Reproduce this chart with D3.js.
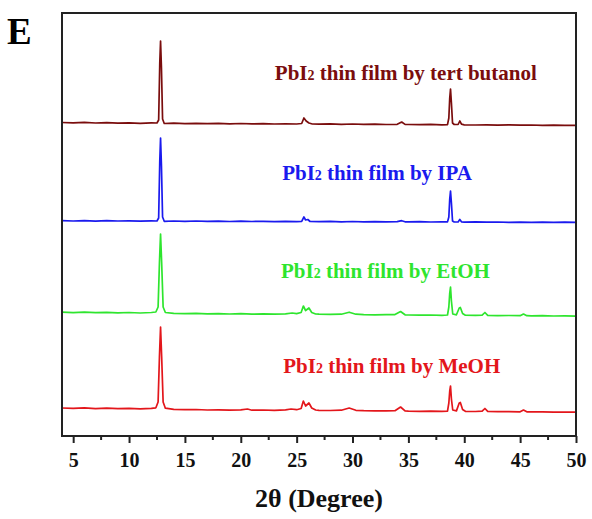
<!DOCTYPE html>
<html>
<head>
<meta charset="utf-8">
<script src="https://cdn.jsdelivr.net/npm/d3@7"></script>
<style>
  body { margin: 0; background: #fff; }
  svg { display: block; }
  text { font-family: "Liberation Serif", "Times New Roman", serif; font-weight: bold; }
</style>
</head>
<body>
<div id="chart"></div>
<script>
// series names, colours and vertical stacking offsets (a.u.)
const names = ['tert butanol', 'IPA', 'EtOH', 'MeOH'];
const colors = ['#7a0d0d', '#1a1aee', '#2ee52e', '#e3161b'];
const offsets = [313, 215, 123, 27];

const xTicks = [5, 10, 15, 20, 25, 30, 35, 40, 45, 50];
const xMinor = [7.5, 12.5, 17.5, 22.5, 27.5, 32.5, 37.5, 42.5, 47.5];

// [2theta, intensity]
const tertData = [
  [4, 0.5], [5, 0.2], [6, 0.6], [7, 0], [8, 0.4], [9, -0.2], [10, 0.2], [11, -0.3], [12, 0.1],
  [12.5, 0], [12.65, 3], [12.75, 60], [12.82, 82], [12.9, 55], [13.0, 4], [13.15, -0.5],
  [14, -0.2], [15, -0.6], [16, -0.3], [17, -0.7], [18, -0.4], [19, -0.8], [20, -0.5], [21, -0.9],
  [22, -0.6], [23, -1], [24, -0.8], [25, -1], [25.45, -0.5], [25.65, 5], [25.85, 2], [26.1, 0],
  [26.4, -1], [27, -1.1], [28, -0.9], [29, -1.3], [30, -1], [31, -1.4], [32, -1.2], [33, -1.5],
  [34, -1.3], [34.4, 1], [34.7, -1.4], [35, -1.5], [36, -1.7], [37, -1.4], [38, -1.8], [38.5, -1.7],
  [38.62, 5], [38.7, 25], [38.77, 34], [38.85, 20], [38.95, 0], [39.1, -1.5], [39.45, -1.5],
  [39.6, 2], [39.75, -1.2], [40, -1.8], [41, -2], [42, -1.8], [43, -2.1], [44, -1.9], [45, -2.2],
  [46, -2], [47, -2.3], [48, -2.1], [49, -2.4], [50, -2.3]
];

const ipaData = [
  [4, 0.3], [5, 0], [6, 0.4], [7, -0.1], [8, 0.3], [9, 0], [10, 0.2], [11, -0.2], [12, 0.1],
  [12.5, 0], [12.65, 3], [12.75, 60], [12.82, 83], [12.9, 55], [13.0, 4], [13.15, -0.3],
  [14, 0], [15, -0.3], [16, 0], [17, -0.4], [18, -0.1], [19, -0.5], [20, -0.2], [21, -0.5],
  [22, -0.3], [23, -0.6], [24, -0.4], [25, -0.6], [25.45, -0.3], [25.65, 4], [25.8, 1],
  [26.0, 1.5], [26.2, -0.5], [27, -0.6], [28, -0.4], [29, -0.8], [30, -0.5], [31, -0.8],
  [32, -0.6], [33, -0.9], [34, -0.7], [34.4, 0.3], [34.7, -0.8], [35, -0.9], [36, -0.7],
  [37, -1], [38, -0.8], [38.5, -0.9], [38.62, 4], [38.7, 22], [38.77, 30], [38.85, 18],
  [38.95, 0], [39.1, -1], [39.45, -0.9], [39.6, 1.5], [39.75, -0.8], [40, -1.1], [41, -0.9],
  [42, -1.2], [43, -1], [44, -1.3], [45, -1.1], [46, -1.3], [47, -1.2], [48, -1.4], [49, -1.2],
  [50, -1.4]
];

const etohData = [
  [4, 0.8], [5, 0.4], [6, 0.9], [7, 0.3], [8, 0.7], [9, 0.2], [10, 0.5], [11, 0], [12, 0.5],
  [12.4, 1], [12.6, 6], [12.72, 50], [12.82, 79], [12.92, 50], [13.05, 6], [13.25, 0.5],
  [14, -0.3], [15, -0.6], [16, -0.4], [17, -0.9], [18, -0.6], [19, -1], [20, -0.7], [21, -1.1],
  [22, -0.9], [23, -1.2], [24, -0.8], [24.6, 0], [25, -0.6], [25.4, 0.5], [25.6, 7], [25.8, 2.5],
  [26.1, 5], [26.35, 0.5], [26.7, -1], [27, -1.2], [28, -1.4], [29, -1.2], [29.7, 0.8],
  [30.3, -1.2], [31, -1.6], [32, -1.8], [33, -1.7], [33.8, -1.6], [34.3, 1.5], [34.7, -1.8],
  [35, -2], [36, -2.1], [37, -2], [38, -2.3], [38.5, -2], [38.62, 6], [38.7, 20], [38.77, 26],
  [38.85, 12], [38.97, -1], [39.3, -1.8], [39.55, 5], [39.65, 5.5], [39.85, -0.5], [40.1, -2.2],
  [41, -2.4], [41.6, -2.1], [41.85, 0.5], [42.1, -2.3], [43, -2.6], [44, -2.5], [45, -2.7],
  [45.3, -1], [45.6, -2.7], [46, -2.8], [47, -2.7], [48, -3], [49, -2.9], [50, -3.1]
];

const meohData = [
  [4, 1], [5, 0.6], [6, 1.1], [7, 0.4], [8, 0.8], [9, 0.3], [10, 0.6], [11, 0.1], [12, 0.6],
  [12.4, 1.2], [12.6, 7], [12.72, 52], [12.82, 82], [12.92, 52], [13.05, 7], [13.25, 0.8],
  [14, -0.4], [15, -0.7], [16, -0.5], [17, -1], [18, -0.8], [19, -1.1], [20, -0.8], [20.6, 0],
  [21, -1.2], [22, -1], [23, -1.3], [24, -0.9], [24.5, 0], [25, -0.7], [25.4, 0.5], [25.6, 8],
  [25.8, 3], [26.1, 6], [26.35, 1], [26.7, -1], [27, -1.3], [28, -1.5], [29, -1.2], [29.7, 1],
  [30.3, -1.3], [31, -1.7], [32, -1.9], [33, -1.8], [33.8, -1.7], [34.3, 2], [34.7, -1.9],
  [35, -2.1], [36, -2.3], [37, -2.1], [38, -2.4], [38.5, -2.1], [38.62, 6], [38.7, 18],
  [38.77, 23], [38.85, 10], [38.97, -1], [39.3, -1.9], [39.55, 6], [39.65, 6.5], [39.85, -0.5],
  [40.1, -2.3], [41, -2.5], [41.6, -2.2], [41.85, 0.5], [42.1, -2.4], [43, -2.7], [44, -2.6],
  [45, -2.8], [45.3, -1], [45.6, -2.8], [46, -2.9], [47, -2.8], [48, -3.1], [49, -3], [50, -3.2]
];

const seriesData = [tertData, ipaData, etohData, meohData];

// label anchor points [2theta, a.u.]
const labelPos = [[23.05, 356], [23.7, 256], [23.6, 158], [23.8, 63]];

const width = 592, height = 519;
const margin = { top: 13, right: 16, bottom: 83, left: 62 };

const svg = d3.select('#chart').append('svg')
  .attr('width', width)
  .attr('height', height);

const x = d3.scaleLinear().domain([4, 50])
  .range([margin.left, width - margin.right]);
const y = d3.scaleLinear().domain([0, height - margin.top - margin.bottom])
  .range([height - margin.bottom, margin.top]);

// traces
const line = d3.line()
  .x((d) => x(d[0]))
  .y((d) => y(d[1]));

seriesData.forEach((data, i) => {
  svg.append('path')
    .datum(data.map((d) => [d[0], d[1] + offsets[i]]))
    .attr('fill', 'none')
    .attr('stroke', colors[i])
    .attr('stroke-width', 1.7)
    .attr('stroke-linejoin', 'round')
    .attr('d', line);
});

// labels
names.forEach((n, i) => {
  const t = svg.append('text')
    .attr('x', x(labelPos[i][0]))
    .attr('y', y(labelPos[i][1]))
    .attr('fill', colors[i])
    .attr('font-size', 21);
  t.append('tspan').text('PbI');
  t.append('tspan').attr('font-size', 14).text('2');
  t.append('tspan').text(' thin film by ' + n);
});

// frame
svg.append('rect')
  .attr('x', margin.left)
  .attr('y', margin.top)
  .attr('width', width - margin.left - margin.right)
  .attr('height', height - margin.top - margin.bottom)
  .attr('fill', 'none')
  .attr('stroke', '#222')
  .attr('stroke-width', 2);

// x axis
const xAxis = svg.append('g')
  .attr('transform', `translate(0,${height - margin.bottom})`)
  .call(d3.axisBottom(x).tickValues(xTicks).tickSize(7).tickPadding(10));
xAxis.select('.domain').remove();
xAxis.selectAll('line').attr('stroke', '#222').attr('stroke-width', 2);
xAxis.selectAll('text')
  .attr('font-size', 20)
  .attr('fill', '#111')
  .style('font-family', '"Liberation Serif", serif')
  .style('font-weight', 'bold');

svg.append('g')
  .selectAll('line')
  .data(xMinor)
  .enter()
  .append('line')
  .attr('x1', (d) => x(d))
  .attr('x2', (d) => x(d))
  .attr('y1', height - margin.bottom)
  .attr('y2', height - margin.bottom + 4)
  .attr('stroke', '#222')
  .attr('stroke-width', 2);

svg.append('text')
  .attr('x', 319)
  .attr('y', 507)
  .attr('text-anchor', 'middle')
  .attr('font-size', 26)
  .attr('fill', '#111')
  .text('2θ (Degree)');

svg.append('text')
  .attr('x', 7)
  .attr('y', 44)
  .attr('font-size', 37)
  .attr('fill', '#000')
  .text('E');
</script>
</body>
</html>
